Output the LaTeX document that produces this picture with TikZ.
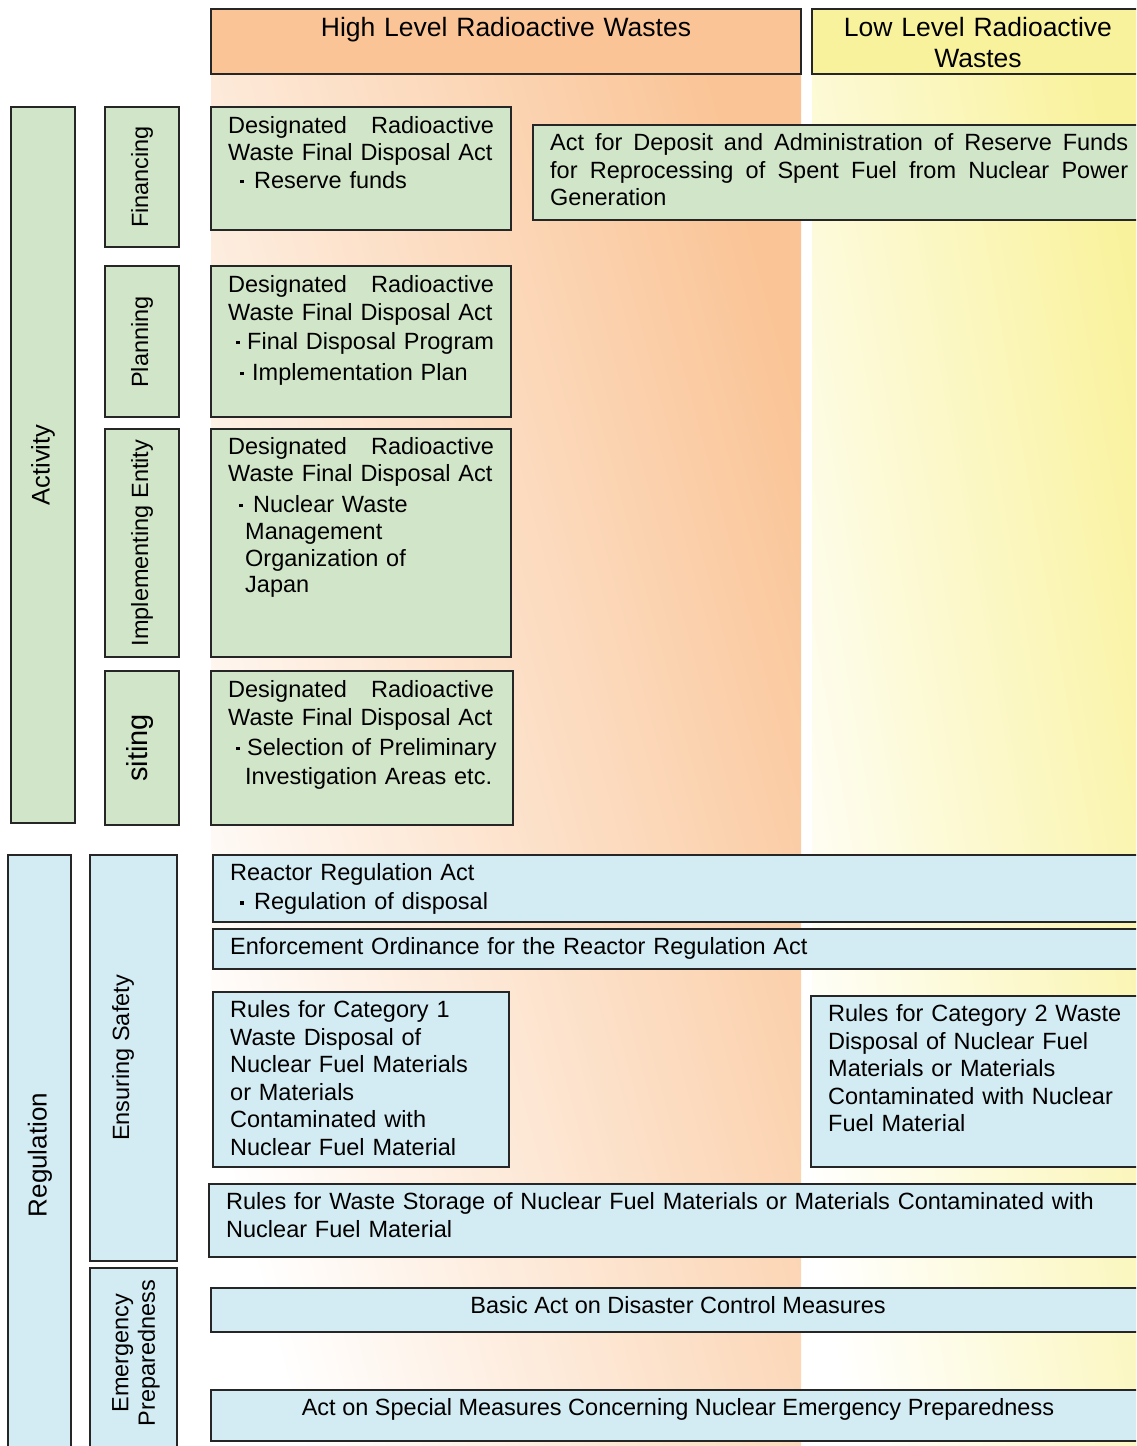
\documentclass[tikz,border=0pt]{standalone}
\usepackage{fontspec}
\setmainfont{Liberation Sans}
\definecolor{hlw}{RGB}{250,196,150}
\definecolor{llw}{RGB}{249,242,156}
\definecolor{actgreen}{RGB}{209,230,201}
\definecolor{regblue}{RGB}{211,235,242}
\newcommand{\bul}[2]{\makebox[#2pt][l]{\hspace{#1pt}\rule[5pt]{3.5pt}{3.5pt}}}
\tikzset{
  box/.style={draw=black!85, line width=1.8pt},
  gbox/.style={box, fill=actgreen},
  bbox/.style={box, fill=regblue},
  txt/.style={anchor=base west, inner sep=0pt, text width=#1, align=left,
    font=\fontsize{23.5}{27.5}\selectfont},
  txt/.default=300pt,
  ctxt/.style={anchor=base, inner sep=0pt, font=\fontsize{23.5}{27.5}\selectfont},
  htxt/.style={anchor=base, inner sep=0pt, text width=#1, align=center,
    font=\fontsize{26.5}{31}\selectfont},
  htxt/.default=340pt,
  vtxt/.style={rotate=90, inner sep=0pt, align=center,
    font=\fontsize{23.5}{27.5}\selectfont},
}
\begin{document}
\begin{tikzpicture}[x=1pt,y=-1pt]
   \useasboundingbox (0,0) rectangle (1136,1446);
   \clip (0,0) rectangle (1136,1446);
   % columns
   \shade[top color=hlw, bottom color=white, shading angle=-75] (211,74) rectangle (801,1446);
   \shade[top color=llw, bottom color=white, shading angle=-80] (812,74) rectangle (1136,1446);
   \draw[box, fill=hlw] (211,9) rectangle (801,74);
   \draw[box, fill=llw] (812,9) rectangle (1150,74);
   \node[htxt=560pt] (hlwt) at (506,36) {High Level Radioactive Wastes};
   \node[htxt] (llwt) at (978,36) {Low Level Radioactive\\Wastes};
   % activity
   \draw[gbox] (11,107) rectangle (75,823);
   \draw[gbox] (105,107) rectangle (179,247);
   \draw[gbox] (105,266) rectangle (179,417);
   \draw[gbox] (105,429) rectangle (179,657);
   \draw[gbox] (105,671) rectangle (179,825);
   \node[vtxt, font=\fontsize{25.5}{30}\selectfont] (actt) at (43,465) {Activity};
   \node[vtxt] (fint) at (142,177) {Financing};
   \node[vtxt] (plat) at (142,342) {Planning};
   \node[vtxt] (impt) at (142,543) {Implementing Entity};
   \node[vtxt, font=\fontsize{29}{33}\selectfont] (sitt) at (140,748) {siting};
   \draw[gbox] (211,107) rectangle (511,230);
   \draw[gbox] (533,125) rectangle (1150,220);
   \draw[gbox] (211,266) rectangle (511,417);
   \draw[gbox] (211,429) rectangle (511,657);
   \draw[gbox] (211,671) rectangle (513,825);
   \node[txt] (dr1) at (228,133) {Designated\hspace{24pt}Radioactive\\Waste Final Disposal Act\\\bul{12}{26}Reserve funds};
   \node[txt=578pt, align=justify] (dep) at (550,150.5) {Act for Deposit and Administration of Reserve Funds\linebreak for Reprocessing of Spent Fuel from Nuclear Power\linebreak Generation};
   \node[txt] (dr2) at (228,292.5) {Designated\hspace{24pt}Radioactive\\Waste Final Disposal Act\\[1.5pt]\bul{8}{19}Final Disposal Program\\[3.5pt]\bul{12}{24}Implementation Plan};
   \node[txt] (dr3) at (228,454) {Designated\hspace{24pt}Radioactive\\Waste Final Disposal Act\\[3pt]\bul{11}{25}Nuclear Waste\\\hspace*{17pt}Management\\[-1pt]\hspace*{17pt}Organization of\\[-1pt]\hspace*{17pt}Japan};
   \node[txt] (dr4) at (228,697.5) {Designated\hspace{24pt}Radioactive\\Waste Final Disposal Act\\[2.5pt]\bul{8}{19}Selection of Preliminary\\[1.5pt]\hspace*{17pt}Investigation Areas etc.};
   % regulation
   \draw[bbox] (8,855) rectangle (71,1456);
   \draw[bbox] (90,855) rectangle (177,1261);
   \draw[bbox] (90,1268) rectangle (177,1456);
   \node[vtxt, font=\fontsize{26}{31}\selectfont] (regt) at (40,1155) {Regulation};
   \node[vtxt] (safet) at (123,1058) {Ensuring Safety};
   \node[vtxt, font=\fontsize{23.5}{26.5}\selectfont] (emert) at (136,1353) {Emergency\\Preparedness};
   \draw[bbox] (213,855) rectangle (1150,922);
   \draw[bbox] (213,929) rectangle (1150,969);
   \draw[bbox] (213,992) rectangle (509,1167);
   \draw[bbox] (811,996) rectangle (1150,1167);
   \draw[bbox] (209,1184) rectangle (1150,1257);
   \draw[bbox] (211,1288) rectangle (1145,1332);
   \draw[bbox] (211,1390) rectangle (1145,1441);
   \node[txt=900pt] (rra) at (230,880.5) {Reactor Regulation Act\\[1.5pt]\bul{10}{24}Regulation of disposal};
   \node[txt=900pt] (eor) at (230,954.5) {Enforcement Ordinance for the Reactor Regulation Act};
   \node[txt=280pt] (cat1) at (230,1017.5) {Rules for Category 1\\Waste Disposal of\\Nuclear Fuel Materials\\or Materials\\Contaminated with\\Nuclear Fuel Material};
   \node[txt=320pt] (cat2) at (828,1021.5) {Rules for Category 2 Waste\\Disposal of Nuclear Fuel\\Materials or Materials\\Contaminated with Nuclear\\Fuel Material};
   \node[txt=910pt] (sto) at (226,1209.5) {Rules for Waste Storage of Nuclear Fuel Materials or Materials Contaminated with\\Nuclear Fuel Material};
   \node[ctxt] (bas) at (678,1313.5) {Basic Act on Disaster Control Measures};
   \node[ctxt] (spe) at (678,1415.5) {Act on Special Measures Concerning Nuclear Emergency Preparedness};
\end{tikzpicture}
\end{document}
